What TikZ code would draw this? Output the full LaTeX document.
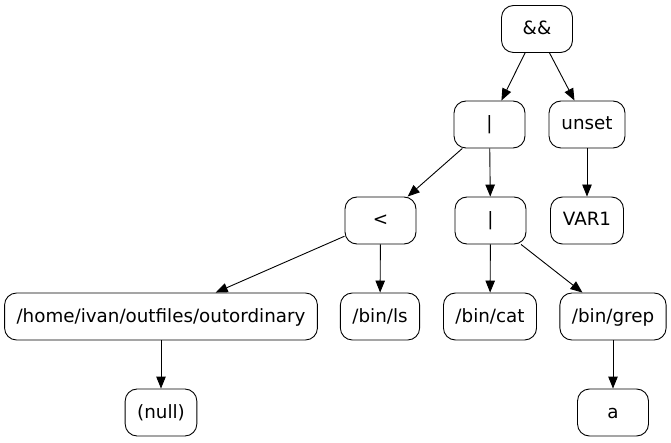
\documentclass[tikz,border=0pt]{standalone}
\usepackage{fontspec}
\setmainfont{DejaVu Sans}
\usetikzlibrary{arrows.meta}
\begin{document}
\begin{tikzpicture}[x=1pt,y=-1pt,
  tnode/.style={draw, line width=0.9pt, rounded corners=12pt, minimum height=47pt,
    minimum width=71pt, inner xsep=12pt, text height=14pt, text depth=3pt,
    font=\fontsize{18.3}{21}\selectfont},
  edge/.style={line width=0.9pt, -{Triangle[length=12pt,width=9.5pt]}}]
\useasboundingbox (0,0) rectangle (671,443);
\node[tnode] (and)   at (537,29)  {\&\&};
\node[tnode] (pipeA) at (489.5,124.5) {|};
\node[tnode, minimum width=76pt] (unset) at (587,124.5) {unset};
\node[tnode] (lt)    at (380.5,220.5) {<};
\node[tnode] (pipeB) at (490.5,220.5) {|};
\node[tnode, minimum width=73pt] (var)   at (587,220.5) {VAR1};
\node[tnode] (home)  at (161,316.5) {/home/ivan/outfiles/outordinary};
\node[tnode, minimum width=76pt] (ls)    at (380,316.5) {/bin/ls};
\node[tnode] (cat)   at (490,316.5) {/bin/cat};
\node[tnode] (grep)  at (613,316.5) {/bin/grep};
\node[tnode] (null)  at (161,412.5) {(null)};
\node[tnode] (a)     at (613,412.5) {a};
\draw[edge] (and) -- (pipeA);
\draw[edge] (and) -- (unset);
\draw[edge] (pipeA) -- (lt);
\draw[edge] (pipeA) -- (pipeB);
\draw[edge] (unset) -- (var);
\draw[edge] (lt) -- (home);
\draw[edge] (lt) -- (ls);
\draw[edge] (pipeB) -- (cat);
\draw[edge] (pipeB) -- (grep);
\draw[edge] (home) -- (null);
\draw[edge] (grep) -- (a);
\end{tikzpicture}
\end{document}
